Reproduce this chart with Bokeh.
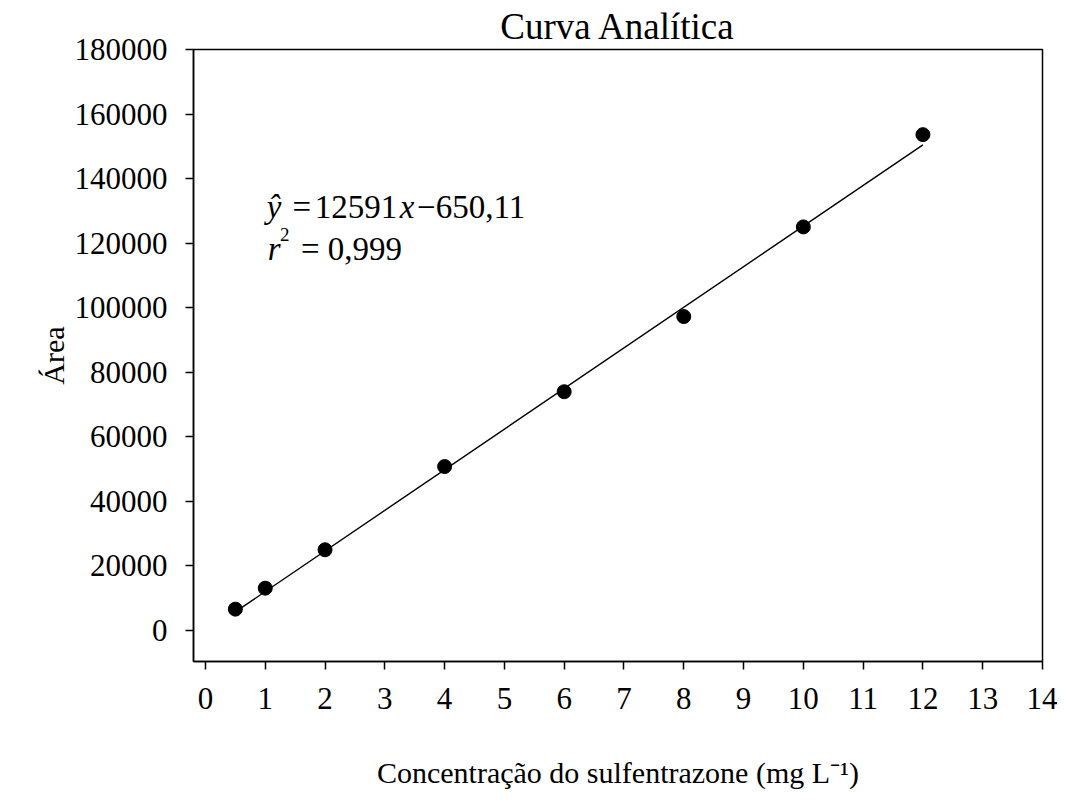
from bokeh.plotting import figure
from bokeh.models import Range1d, FixedTicker, Label
from bokeh.embed import file_html
from bokeh.resources import INLINE

# Data
conc = [0.5, 1, 2, 4, 6, 8, 10, 12]
area = [6500, 13000, 24900, 50700, 73900, 97200, 125000, 153600]
x_ticks = list(range(0, 15))
y_ticks = list(range(0, 180001, 20000))

# Regression shown on the chart
slope = 12591
intercept = -650.11
fit_x = [conc[0], conc[-1]]
fit_y = [slope * v + intercept for v in fit_x]

FONT = "Liberation Serif"

p = figure(width=1057, height=795, output_backend="svg", toolbar_location=None,
           x_range=Range1d(-0.2, 14), y_range=Range1d(-9735, 180000),
           min_border_left=193, min_border_right=15, min_border_top=49, min_border_bottom=134,
           title="Curva Analítica")

p.title.align = "center"
p.title.text_font = FONT
p.title.text_font_size = "37px"
p.title.text_font_style = "normal"
p.title.text_color = "black"
p.title.standoff = 5

p.grid.visible = False
p.outline_line_color = "black"
p.outline_line_width = 1.5
p.background_fill_color = "white"
p.border_fill_color = "white"

for ax in (p.xaxis[0], p.yaxis[0]):
    ax.axis_line_color = "black"
    ax.axis_line_width = 1.5
    ax.major_tick_line_color = "black"
    ax.major_tick_line_width = 1.5
    ax.major_tick_out = 8
    ax.major_tick_in = 0
    ax.minor_tick_line_color = None
    ax.major_label_text_font = FONT
    ax.major_label_text_font_size = "31px"
    ax.major_label_text_color = "black"
    ax.major_label_standoff = 18
    ax.axis_label_text_font = FONT
    ax.axis_label_text_font_size = "30px"
    ax.axis_label_text_font_style = "normal"
    ax.axis_label_text_color = "black"

p.xaxis.ticker = FixedTicker(ticks=x_ticks)
p.yaxis.ticker = FixedTicker(ticks=y_ticks)
p.yaxis.formatter.use_scientific = False
p.xaxis.axis_label = "Concentração do sulfentrazone (mg L⁻¹)"
p.xaxis.axis_label_standoff = 44
p.yaxis.axis_label = "Área"
p.yaxis.axis_label_standoff = 2

p.line(fit_x, fit_y, line_color="black", line_width=1.4)
p.scatter(conc, area, size=14, fill_color="black", line_color="black")

# Equation annotation
def lab(text, x, y, size="33px", style="normal", align="left"):
    p.add_layout(Label(x=x, y=y, text=text, text_font=FONT, text_font_size=size,
                       text_font_style=style, text_color="black", text_align=align,
                       text_baseline="alphabetic"))

y1 = 131230
y2 = 118210
lab("ŷ", 1.025, y1, style="italic")
lab("=", 1.610, y1, align="center")
lab("12591", 1.828, y1)
lab("x", 3.249, y1, style="italic")
lab("−", 3.692, y1, align="center")
lab("650,11", 3.851, y1)
lab("r", 1.042, y2, style="italic")
lab("2", 1.246, 122550, size="19px")
lab("=", 1.753, y2, align="center")
lab("0,999", 2.045, y2)

open("out.html", "w").write(file_html(p, INLINE))
